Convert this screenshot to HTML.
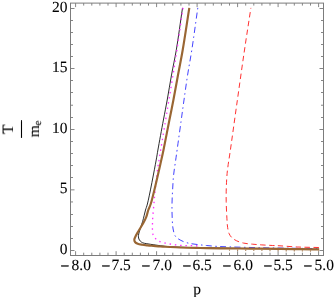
<!DOCTYPE html>
<html><head><meta charset="utf-8"><title>plot</title>
<style>html,body{margin:0;padding:0;background:#fff;}body{width:334px;height:297px;overflow:hidden;font-family:"Liberation Serif",serif;}</style>
</head><body>
<svg width="334" height="297" viewBox="0 0 334 297" style="display:block">
<rect x="0" y="0" width="334" height="297" fill="#fff"/>
<g fill="none" stroke-linejoin="round">
<path d="M182.50,7.90 C180.43,21.93 178.37,37.80 176.30,50.00 C174.70,59.43 173.02,66.66 171.50,75.00 C169.98,83.33 168.62,92.14 167.20,100.00 C165.93,107.04 164.77,112.66 163.40,120.00 C161.72,128.99 159.19,142.68 157.90,150.00 C157.15,154.22 157.03,155.49 156.20,160.00 C154.45,169.48 149.43,196.12 147.40,204.00 C146.64,206.95 146.06,208.02 145.50,210.00 C144.96,211.92 144.57,213.81 144.10,215.70 C143.64,217.58 143.29,219.25 142.70,221.30 C141.96,223.85 140.62,227.45 139.90,229.80 C139.40,231.44 138.95,232.72 138.70,234.00 C138.50,235.05 138.34,236.02 138.40,236.90 C138.45,237.66 138.61,238.33 138.90,239.00 C139.22,239.73 139.70,240.48 140.30,241.10 C140.95,241.76 141.78,242.39 142.70,242.80 C143.72,243.26 144.97,243.36 146.20,243.60 C147.56,243.87 148.98,244.07 150.50,244.30 C152.22,244.57 153.94,244.81 156.00,245.10 C158.63,245.47 161.61,245.97 165.00,246.30 C169.36,246.72 173.54,246.94 180.00,247.20 C191.79,247.67 213.33,247.93 230.00,248.20 C246.67,248.47 264.37,248.61 280.00,248.80 C293.81,248.97 306.00,249.13 319.00,249.30" stroke="#141414" stroke-width="0.9"/>
<path d="M183.00,7.90 C180.97,21.93 178.81,37.30 176.90,50.00 C175.32,60.51 173.85,69.72 172.40,78.80 C171.10,86.95 169.83,94.50 168.60,102.00 C167.44,109.07 166.51,114.68 165.20,122.60 C163.42,133.38 160.10,153.57 158.90,160.80 C158.43,163.66 158.28,164.06 157.90,166.80 C157.07,172.70 155.38,188.00 154.70,194.80 C154.31,198.70 154.19,200.61 153.90,204.00 C153.54,208.18 152.92,214.51 152.70,218.00 C152.57,220.08 152.55,221.37 152.50,223.00 C152.45,224.57 152.37,226.01 152.40,227.60 C152.43,229.33 152.47,231.50 152.70,233.00 C152.87,234.09 153.01,234.97 153.40,235.80 C153.76,236.59 154.34,237.24 154.90,237.90 C155.47,238.57 156.10,239.25 156.80,239.80 C157.50,240.35 158.15,240.77 159.10,241.20 C160.44,241.81 162.46,242.34 164.20,242.80 C165.99,243.27 167.85,243.67 169.70,244.00 C171.55,244.33 173.41,244.57 175.30,244.80 C177.24,245.04 179.27,245.27 181.20,245.40 C183.04,245.53 184.80,245.55 186.60,245.60 C188.40,245.65 190.15,245.67 192.00,245.70 C193.95,245.73 196.00,245.77 198.00,245.80" stroke="#ff2cff" stroke-width="1.3" stroke-dasharray="1.45 3.85"/>
<path d="M197.80,7.90 C195.80,21.93 193.69,37.80 191.80,50.00 C190.34,59.42 188.90,66.66 187.60,75.00 C186.30,83.33 185.12,92.03 184.00,100.00 C182.97,107.30 182.14,113.44 181.10,121.00 C179.87,129.89 178.09,142.85 177.10,150.00 C176.52,154.20 176.21,156.33 175.70,160.00 C175.07,164.49 174.12,169.99 173.60,175.00 C173.08,179.99 172.87,185.08 172.60,190.00 C172.34,194.75 172.07,199.33 172.00,204.00 C171.93,208.67 171.99,213.62 172.20,218.00 C172.39,221.89 172.45,225.73 173.10,229.00 C173.65,231.75 174.11,234.47 175.50,236.40 C176.79,238.20 178.88,239.31 180.90,240.40 C183.08,241.58 185.60,242.43 188.20,243.10 C191.03,243.83 194.26,244.10 197.30,244.50 C200.33,244.90 203.23,245.19 206.40,245.50 C209.87,245.83 213.53,246.17 217.30,246.40 C221.37,246.65 224.87,246.73 230.00,246.90 C237.88,247.16 250.00,247.48 260.00,247.70 C270.00,247.92 280.08,248.05 290.00,248.20 C299.75,248.35 309.33,248.47 319.00,248.60" stroke="#2e2eff" stroke-width="0.9" stroke-dasharray="1.5 3.3 6.1 3.45"/>
<path d="M250.90,7.90 C248.77,21.93 246.67,35.22 244.50,50.00 C242.08,66.41 239.53,84.78 237.10,102.00 C234.70,119.01 231.61,141.70 230.00,152.70 C229.22,158.01 228.70,160.82 228.20,164.50 C227.76,167.73 227.38,170.56 227.10,173.60 C226.82,176.63 226.65,179.67 226.50,182.70 C226.35,185.73 226.25,188.69 226.20,191.80 C226.15,195.05 226.12,198.06 226.20,201.80 C226.30,206.59 226.62,213.53 226.90,218.20 C227.11,221.68 227.17,224.56 227.60,227.30 C227.96,229.61 228.31,231.80 229.10,233.60 C229.78,235.16 230.64,236.44 231.80,237.60 C233.04,238.84 234.63,239.83 236.40,240.70 C238.47,241.72 241.03,242.52 243.60,243.10 C246.43,243.74 249.66,243.90 252.70,244.20 C255.73,244.50 258.63,244.69 261.80,244.90 C265.27,245.13 269.43,245.34 272.70,245.50 C275.38,245.63 277.05,245.64 280.00,245.80 C284.54,246.05 291.21,246.72 297.30,247.00 C304.10,247.31 311.70,247.33 318.90,247.50" stroke="#ff2626" stroke-width="0.95" stroke-dasharray="5.4 3.5" stroke-dashoffset="4.7"/>
<path d="M189.30,7.90 C187.10,21.93 184.80,37.80 182.70,50.00 C181.08,59.43 179.55,66.67 178.00,75.00 C176.45,83.33 174.91,92.14 173.40,100.00 C172.05,107.04 170.86,112.66 169.40,120.00 C167.62,128.99 165.02,142.69 163.50,150.00 C162.62,154.23 162.34,155.49 161.30,160.00 C159.12,169.48 153.21,196.14 150.70,204.00 C149.75,206.97 149.03,207.90 148.30,210.00 C147.52,212.25 147.11,214.78 146.20,217.10 C145.26,219.48 143.98,221.78 142.70,224.10 C141.38,226.49 139.66,229.03 138.40,231.20 C137.35,233.00 136.31,234.66 135.60,236.20 C135.02,237.45 134.31,238.63 134.30,239.70 C134.30,240.60 134.66,241.54 135.20,242.20 C135.77,242.89 136.72,243.30 137.70,243.70 C138.91,244.19 140.46,244.43 142.00,244.70 C143.74,245.01 145.72,245.20 147.60,245.40 C149.49,245.60 151.30,245.73 153.30,245.90 C155.54,246.09 158.29,246.36 160.40,246.50 C162.10,246.61 163.03,246.60 165.00,246.70 C168.56,246.87 174.64,247.29 180.00,247.50 C186.19,247.74 193.33,247.86 200.00,248.00 C206.67,248.14 212.66,248.26 220.00,248.35 C228.99,248.47 240.00,248.51 250.00,248.60 C260.00,248.69 271.01,248.80 280.00,248.90 C287.34,248.98 293.40,249.07 300.00,249.15 C306.47,249.23 312.80,249.32 319.20,249.40" stroke="#996633" stroke-width="2.15"/>
</g>
<path d="M75.60,255.50V251.20M75.60,3.10V7.10M83.70,255.50V252.70M83.70,3.10V5.60M91.80,255.50V252.70M91.80,3.10V5.60M99.90,255.50V252.70M99.90,3.10V5.60M108.00,255.50V252.70M108.00,3.10V5.60M116.10,255.50V251.20M116.10,3.10V7.10M124.20,255.50V252.70M124.20,3.10V5.60M132.30,255.50V252.70M132.30,3.10V5.60M140.40,255.50V252.70M140.40,3.10V5.60M148.50,255.50V252.70M148.50,3.10V5.60M156.60,255.50V251.20M156.60,3.10V7.10M164.70,255.50V252.70M164.70,3.10V5.60M172.80,255.50V252.70M172.80,3.10V5.60M180.90,255.50V252.70M180.90,3.10V5.60M189.00,255.50V252.70M189.00,3.10V5.60M197.10,255.50V251.20M197.10,3.10V7.10M205.20,255.50V252.70M205.20,3.10V5.60M213.30,255.50V252.70M213.30,3.10V5.60M221.40,255.50V252.70M221.40,3.10V5.60M229.50,255.50V252.70M229.50,3.10V5.60M237.60,255.50V251.20M237.60,3.10V7.10M245.70,255.50V252.70M245.70,3.10V5.60M253.80,255.50V252.70M253.80,3.10V5.60M261.90,255.50V252.70M261.90,3.10V5.60M270.00,255.50V252.70M270.00,3.10V5.60M278.10,255.50V251.20M278.10,3.10V7.10M286.20,255.50V252.70M286.20,3.10V5.60M294.30,255.50V252.70M294.30,3.10V5.60M302.40,255.50V252.70M302.40,3.10V5.60M310.50,255.50V252.70M310.50,3.10V5.60M318.60,255.50V251.20M318.60,3.10V7.10M70.50,250.50H74.50M323.50,250.50H319.50M70.50,238.50H73.00M323.50,238.50H321.00M70.50,226.50H73.00M323.50,226.50H321.00M70.50,214.50H73.00M323.50,214.50H321.00M70.50,201.94H73.00M323.50,201.94H321.00M70.50,189.85H74.50M323.50,189.85H319.50M70.50,177.50H73.00M323.50,177.50H321.00M70.50,165.50H73.00M323.50,165.50H321.00M70.50,153.50H73.00M323.50,153.50H321.00M70.50,141.50H73.00M323.50,141.50H321.00M70.50,129.50H74.50M323.50,129.50H319.50M70.50,117.50H73.00M323.50,117.50H321.00M70.50,105.22H73.00M323.50,105.22H321.00M70.50,92.50H73.00M323.50,92.50H321.00M70.50,80.50H73.00M323.50,80.50H321.00M70.50,68.50H74.50M323.50,68.50H319.50M70.50,56.50H73.00M323.50,56.50H321.00M70.50,44.50H73.00M323.50,44.50H321.00M70.50,32.50H73.00M323.50,32.50H321.00M70.50,20.50H73.00M323.50,20.50H321.00M70.50,8.50H74.50M323.50,8.50H319.50" stroke="#868686" stroke-width="1" fill="none"/>
<path d="M229.50,249.43V250.83M237.60,249.50V250.90M245.70,249.56V250.96M253.80,249.64V251.04M261.90,249.72V251.12M270.00,249.80V251.20M278.10,249.88V251.20M286.20,249.98V251.38M294.30,250.08V251.48M302.40,250.18V251.58M310.50,250.29V251.69M318.60,250.39V251.20" stroke="#a5794d" stroke-width="1.1" fill="none" opacity="0.9"/>
<rect x="70.50" y="3.10" width="253.00" height="252.40" fill="none" stroke="#7c7c7c" stroke-width="1"/>
<g font-family="'Liberation Serif', serif" font-size="15.5" fill="#000" stroke="#000" stroke-width="0.1" text-rendering="geometricPrecision" opacity="0.999">
<text x="67.4" y="12.20" text-anchor="end">20</text>
<text x="67.4" y="72.00" text-anchor="end">15</text>
<text x="67.4" y="132.95" text-anchor="end">10</text>
<text x="67.4" y="193.40" text-anchor="end">5</text>
<text x="67.4" y="253.90" text-anchor="end">0</text>
<text x="60.60" y="270.8" stroke-width="0.3">−</text>
<text x="71.50" y="269.9">8.0</text>
<text x="101.50" y="270.8" stroke-width="0.3">−</text>
<text x="111.40" y="269.9">7.5</text>
<text x="141.60" y="270.8" stroke-width="0.3">−</text>
<text x="152.50" y="269.9">7.0</text>
<text x="182.50" y="270.8" stroke-width="0.3">−</text>
<text x="192.40" y="269.9">6.5</text>
<text x="222.60" y="270.8" stroke-width="0.3">−</text>
<text x="233.50" y="269.9">6.0</text>
<text x="263.50" y="270.8" stroke-width="0.3">−</text>
<text x="273.40" y="269.9">5.5</text>
<text x="303.60" y="270.8" stroke-width="0.3">−</text>
<text x="314.50" y="269.9">5.0</text>
<text x="197.2" y="293.7" text-anchor="middle">p</text>
<g transform="translate(0,129.3) rotate(-90)">
<text x="0" y="12.6" text-anchor="middle">T</text>
<rect x="-8.8" y="21" width="17.6" height="1" fill="#000"/>
<text x="-8.1" y="38.6">m</text>
<text x="3.7" y="41.0" font-size="11">e</text>
</g>
</g>
</svg>
</body></html>
